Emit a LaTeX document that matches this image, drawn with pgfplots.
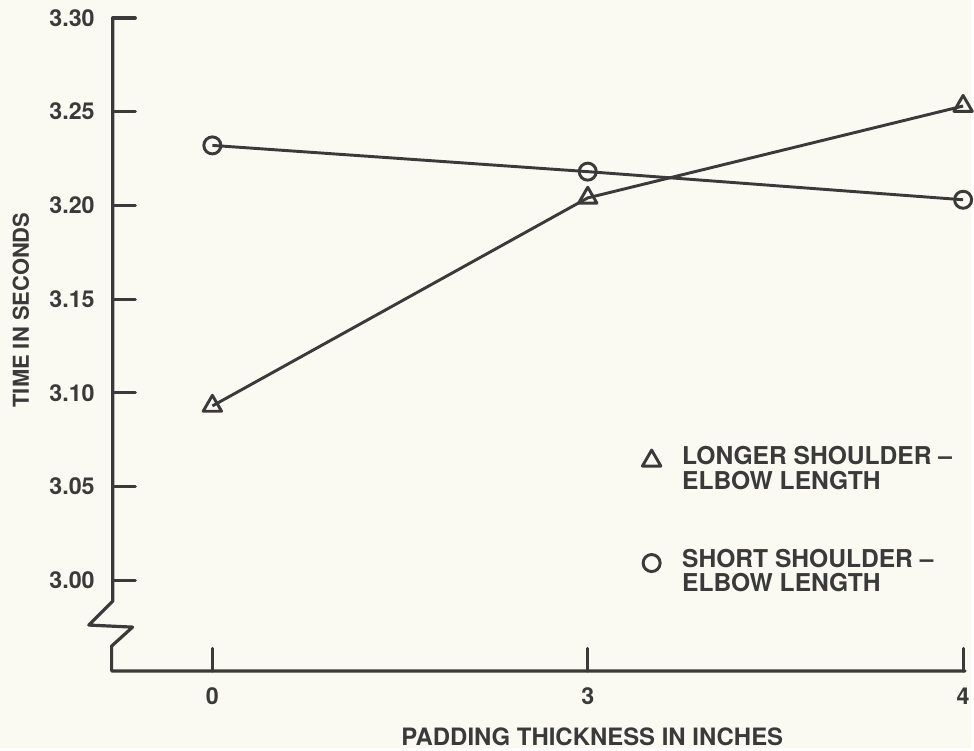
\documentclass[border=0pt]{standalone}
\usepackage{fontspec}
\setmainfont{TeX Gyre Heros}
\usepackage{pgfplots}
\pgfplotsset{compat=1.18}
\definecolor{bg}{RGB}{250,250,243}
\definecolor{ink}{RGB}{58,58,58}
\begin{document}
\begin{tikzpicture}[x=1pt,y=1pt]
\fill[bg] (-84.75,-57.75) rectangle (645.75,504.75);
\begin{axis}[
  at={(0,0)}, anchor=south west,
  width=641.25pt, height=491.25pt, scale only axis,
  xmin=-0.2656, xmax=2.0053, ymin=2.9516, ymax=3.30,
  axis lines*=left, axis line style={draw=none},
  clip=false,
  xtick={0,1,2}, xticklabels={0,3,4},
  ytick={3.00,3.05,3.10,3.15,3.20,3.25,3.30},
  yticklabel style={/pgf/number format/fixed, /pgf/number format/fixed zerofill, /pgf/number format/precision=2, xshift=-10pt},
  /pgf/number format/assume math mode=true,
  tick align=inside, major tick length=17pt,
  tick style={ink, line width=2.4pt, line cap=round},
  ticklabel style={font=\fontsize{17.5}{20}\selectfont\bfseries, text=ink},
  xticklabel style={yshift=-9pt},
  xlabel={PADDING THICKNESS IN INCHES},
  ylabel={TIME IN SECONDS},
  xlabel style={font=\fontsize{18}{20}\selectfont\bfseries, text=ink, at={(axis description cs:0.5626,-0.1008)}, anchor=center},
  ylabel style={font=\fontsize{16.5}{19}\selectfont\bfseries, text=ink, at={(axis description cs:-0.1076,0.5527)}, anchor=center},
  legend style={at={(axis cs:1.145,3.0729)}, anchor=north west, draw=none, fill=none,
    font=\fontsize{18.5}{18.75}\selectfont\bfseries, text=ink, row sep=39pt, column sep=14pt, inner sep=0pt,
    cells={align=left}},
  legend cell align=left,
  legend image code/.code={\draw[#1] plot coordinates {(0pt,6.3pt)};},
]
\draw[ink, line width=2.4pt, line join=round, line cap=round]
  (axis cs:-0.2656,3.30) -- (axis cs:-0.2656,2.9888) -- (axis cs:-0.3293,2.9761)
  -- (axis cs:-0.2125,2.9750) -- (axis cs:-0.2683,2.9649) -- (axis cs:-0.2683,2.9516)
  -- (axis cs:2.0053,2.9516);
\addplot[ink, line width=2.2pt, mark=triangle, mark size=8pt,
  mark options={fill=bg, line width=2.2pt, line join=round, solid}]
  coordinates {(0,3.093) (1,3.204) (2,3.253)};
\addlegendentry{LONGER SHOULDER \textendash\\ELBOW LENGTH}
\addplot[ink, line width=2.2pt, mark=o, mark size=6.4pt,
  mark options={fill=bg, line width=2.2pt, solid}]
  coordinates {(0,3.232) (1,3.218) (2,3.203)};
\addlegendentry{SHORT SHOULDER \textendash\\ELBOW LENGTH}
\end{axis}
\end{tikzpicture}
\end{document}
